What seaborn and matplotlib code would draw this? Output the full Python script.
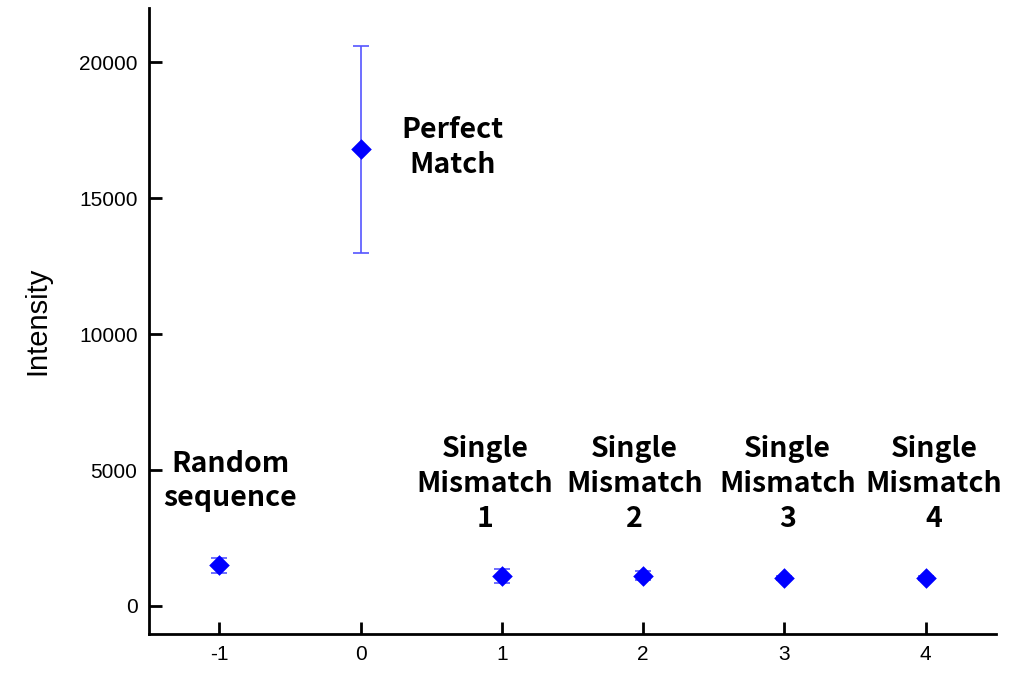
import matplotlib
matplotlib.use("Agg")
import matplotlib.pyplot as plt
import pandas as pd
import seaborn as sns

positions = [-1, 0, 1, 2, 3, 4]
intensity = [1500, 16800, 1100, 1120, 1030, 1030]
errors = [280, 3800, 250, 150, 80, 80]
labels = ["Random\nsequence", "Perfect\nMatch", "Single\nMismatch\n1",
          "Single\nMismatch\n2", "Single\nMismatch\n3", "Single\nMismatch\n4"]

data = pd.DataFrame({"pos": positions, "Intensity": intensity, "err": errors})

sns.set_style("white")
plt.rcParams["font.family"] = ["Liberation Sans", "DejaVu Sans"]
plt.rcParams["axes.unicode_minus"] = False
plt.rcParams["text.color"] = "black"
plt.rcParams["axes.labelcolor"] = "black"
plt.rcParams["xtick.color"] = "black"
plt.rcParams["ytick.color"] = "black"

fig, ax = plt.subplots(figsize=(10.25, 6.73), dpi=100)
ax.errorbar(data["pos"], data["Intensity"], yerr=data["err"], fmt="none",
            ecolor="#5555ff", elinewidth=1.2, capsize=6, capthick=1.2, zorder=2)
sns.scatterplot(data=data, x="pos", y="Intensity", marker="D", s=110,
                color="#0000ff", edgecolor="#0000ff", linewidth=0, ax=ax, zorder=3)

# label placement (data coords)
label_xy = [(-0.92, 4600), (0.65, 16870), (0.88, 4490), (1.94, 4490), (3.02, 4490), (4.06, 4490)]
for (lx, ly), txt in zip(label_xy, labels):
    ax.text(lx, ly, txt, ha="center", va="center", fontsize=20.5, fontweight="bold",
            color="black", family=["Noto Sans CJK KR", "DejaVu Sans"], linespacing=1.3)

ax.set_xlim(-1.5, 4.5)
ax.set_ylim(-1030, 22000)
ax.set_xticks(positions)
ax.set_yticks([0, 5000, 10000, 15000, 20000])
ax.tick_params(direction="in", length=9, width=2, labelsize=15, pad=8,
               bottom=True, left=True)
ax.set_xlabel("")
ax.set_ylabel("Intensity", fontsize=21, labelpad=20)
sns.despine(ax=ax)
for side in ["left", "bottom"]:
    ax.spines[side].set_linewidth(2)
    ax.spines[side].set_color("black")

fig.subplots_adjust(left=0.145, right=0.972, top=0.988, bottom=0.058)
fig.savefig("out.png", dpi=100)
